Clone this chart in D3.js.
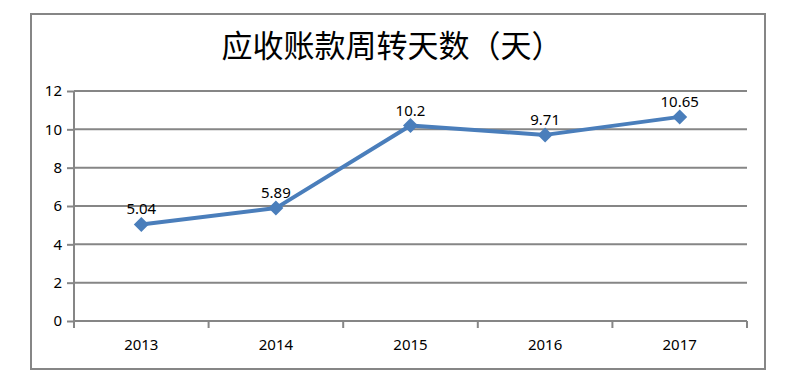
<!DOCTYPE html>
<meta charset="utf-8">
<script src="https://d3js.org/d3.v7.min.js"></script>
<style>
  body { margin: 0; background: #fff; }
  text { font-family: "Noto Sans", "Liberation Sans", sans-serif; fill: #000; }
</style>
<div id="d3chart"></div>
<script>
    // chart data
    var years = ["2013", "2014", "2015", "2016", "2017"];
    var days = [5.04, 5.89, 10.2, 9.71, 10.65];
    var labels = ["5.04", "5.89", "10.2", "9.71", "10.65"];
    var yTicks = [0, 2, 4, 6, 8, 10, 12];
    var title = "应收账款周转天数（天）";

    var W = 785, H = 381;
    var margin = {top: 91, right: 38, bottom: 60, left: 74},
        width = 747 - margin.left,
        height = 321 - margin.top;

    var svg = d3.select("#d3chart")
        .append("svg")
        .attr("width", W)
        .attr("height", H);

    // outer frame
    svg.append("rect")
        .attr("x", 31).attr("y", 14)
        .attr("width", 734).attr("height", 355)
        .attr("fill", "none")
        .attr("stroke", "#868686")
        .attr("stroke-width", 2);

    // title
    svg.append("text")
        .attr("x", 392)
        .attr("y", 57)
        .attr("text-anchor", "middle")
        .style("font-family", "'Noto Sans CJK SC', sans-serif")
        .style("font-size", "31px")
        .text(title);

    var g = svg.append("g")
        .attr("transform", "translate(" + margin.left + "," + margin.top + ")");

    var x = d3.scaleBand()
        .domain(years)
        .range([0, width]);

    var y = d3.scaleLinear()
        .domain([0, 12])
        .range([height, 0]);

    // grid lines
    g.append("g")
        .selectAll("line")
        .data(yTicks.filter(function(d) { return d > 0; }))
        .enter()
        .append("line")
        .attr("x1", 0).attr("x2", width)
        .attr("y1", function(d) { return y(d); })
        .attr("y2", function(d) { return y(d); })
        .attr("stroke", "#868686")
        .attr("stroke-width", 2);

    // Y axis
    var yAxis = g.append("g")
        .call(d3.axisLeft(y).tickValues(yTicks).tickSize(7).tickPadding(5));
    yAxis.selectAll("line").attr("stroke", "#868686").attr("stroke-width", 2);
    yAxis.select(".domain").attr("stroke", "#868686").attr("stroke-width", 2)
        .attr("d", "M0," + height + "V0");
    yAxis.selectAll("text").style("font-size", "15px")
        .style("font-family", "'Noto Sans', sans-serif");

    // X axis
    var xAxis = g.append("g")
        .attr("transform", "translate(0," + height + ")");
    xAxis.append("line")
        .attr("x1", 0).attr("x2", width)
        .attr("stroke", "#868686").attr("stroke-width", 2);
    xAxis.selectAll(".tk")
        .data(d3.range(years.length + 1))
        .enter()
        .append("line")
        .attr("x1", function(i) { return i * x.bandwidth(); })
        .attr("x2", function(i) { return i * x.bandwidth(); })
        .attr("y1", 0).attr("y2", 7)
        .attr("stroke", "#868686").attr("stroke-width", 2);
    xAxis.selectAll(".lbl")
        .data(years)
        .enter()
        .append("text")
        .attr("x", function(d) { return x(d) + x.bandwidth() / 2; })
        .attr("y", 29)
        .attr("text-anchor", "middle")
        .style("font-size", "15px")
        .text(function(d) { return d; });

    var pts = years.map(function(d, i) { return [x(d) + x.bandwidth() / 2, y(days[i])]; });

    // line
    g.append("path")
        .datum(pts)
        .attr("fill", "none")
        .attr("stroke", "#4a7ebb")
        .attr("stroke-width", 4)
        .attr("stroke-linejoin", "round")
        .attr("d", d3.line());

    // markers
    g.append("g")
        .selectAll("path")
        .data(pts)
        .enter()
        .append("path")
        .attr("transform", function(d) { return "translate(" + d[0] + "," + d[1] + ")"; })
        .attr("d", "M0,-7.5L7.5,0L0,7.5L-7.5,0Z")
        .attr("fill", "#4a7ebb");

    // data labels
    g.append("g")
        .selectAll("text")
        .data(pts)
        .enter()
        .append("text")
        .attr("x", function(d) { return d[0]; })
        .attr("y", function(d) { return d[1] - 10; })
        .attr("text-anchor", "middle")
        .style("font-size", "15px")
        .text(function(d, i) { return labels[i]; });
</script>
